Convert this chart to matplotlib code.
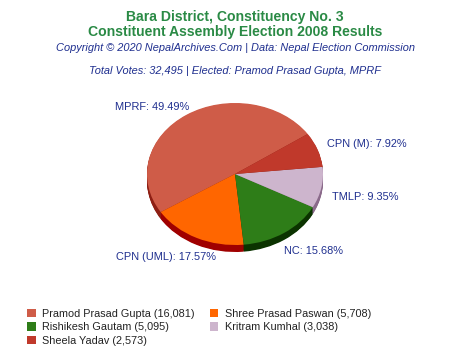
import matplotlib
matplotlib.use("Agg")
import matplotlib.pyplot as plt
from matplotlib.patches import Patch

plt.rcParams['font.family'] = ['Liberation Sans', 'DejaVu Sans']

# data, in legend order
parties = ["MPRF", "CPN (UML)", "NC", "TMLP", "CPN (M)"]
candidates = ["Pramod Prasad Gupta", "Shree Prasad Paswan", "Rishikesh Gautam",
              "Kritram Kumhal", "Sheela Yadav"]
votes = [16081, 5708, 5095, 3038, 2573]
percents = ["49.49%", "17.57%", "15.68%", "9.35%", "7.92%"]

top_colors = ["#cf5c48", "#ff6600", "#2e7d18", "#cdb5cd", "#c0392b"]
side_colors = ["#8e1f14", "#a00000", "#0b3300", "#8a6a8a", "#7a1a12"]

title_1 = "Bara District, Constituency No. 3"
title_2 = "Constituent Assembly Election 2008 Results"
sub_1 = "Copyright \u00a9 2020 NepalArchives.Com | Data: Nepal Election Commission"
sub_2 = "Total Votes: 32,495 | Elected: Pramod Prasad Gupta, MPRF"

# label anchors in pixels from top-left (left edge, vertical center)
label_pos = {"MPRF": (115, 107), "CPN (UML)": (116, 257), "NC": (284, 251),
             "TMLP": (332, 197), "CPN (M)": (327, 144)}

W, H = 470, 352
fig = plt.figure(figsize=(W / 100, H / 100), dpi=100)

green = "#2a8a45"
navy = "#1f2f8f"
fig.text(0.5, 1 - 17 / H, title_1, ha="center", va="center", fontsize=10.1,
         fontweight="bold", color=green)
fig.text(0.5, 1 - 32 / H, title_2, ha="center", va="center", fontsize=10.1,
         fontweight="bold", color=green)
fig.text(0.5, 1 - 48 / H, sub_1, ha="center", va="center", fontsize=7.9,
         style="italic", color=navy)
fig.text(0.5, 1 - 71 / H, sub_2, ha="center", va="center", fontsize=7.9,
         style="italic", color=navy)

# pie axes: ellipse of 176 x 140 px centred at (235, 174)
cx, cy, rx, ry = 235, 174, 88, 71
ax = fig.add_axes([(cx - rx) / W, 1 - (cy + ry) / H, 2 * rx / W, 2 * ry / H])
start = 34.3
depth = 7 / ry
layers = 10
for k in range(layers):
    off = -depth * (1 - k / layers)
    wedges, _ = ax.pie(votes, colors=side_colors, startangle=start,
                       counterclock=True, center=(0, off),
                       wedgeprops=dict(linewidth=0))
    for w in wedges:
        w.set_clip_on(False)
wedges, _ = ax.pie(votes, colors=top_colors, startangle=start,
                   counterclock=True, wedgeprops=dict(linewidth=0))
for w in wedges:
    w.set_clip_on(False)
ax.set_aspect("auto")
ax.set_xlim(-1, 1)
ax.set_ylim(-1, 1)
ax.axis("off")

for p, pct in zip(parties, percents):
    x, y = label_pos[p]
    fig.text(x / W, 1 - y / H, f"{p}: {pct}", ha="left", va="center",
             fontsize=7.9, color=navy)

# legend, row-major in two columns
handles = [Patch(facecolor=c, edgecolor="none") for c in top_colors]
labels = [f"{n} ({v:,})" for n, v in zip(candidates, votes)]
order = [0, 2, 4, 1, 3]
fig.legend([handles[i] for i in order], [labels[i] for i in order],
           loc="upper left", bbox_to_anchor=(27 / W, 1 - 309 / H), ncol=2,
           frameon=False, fontsize=7.8, handlelength=0.8, handleheight=0.8,
           handletextpad=0.6, columnspacing=1.4, labelspacing=0.3,
           borderpad=0, borderaxespad=0, labelcolor="#222222")

fig.savefig("out.png", dpi=100)
